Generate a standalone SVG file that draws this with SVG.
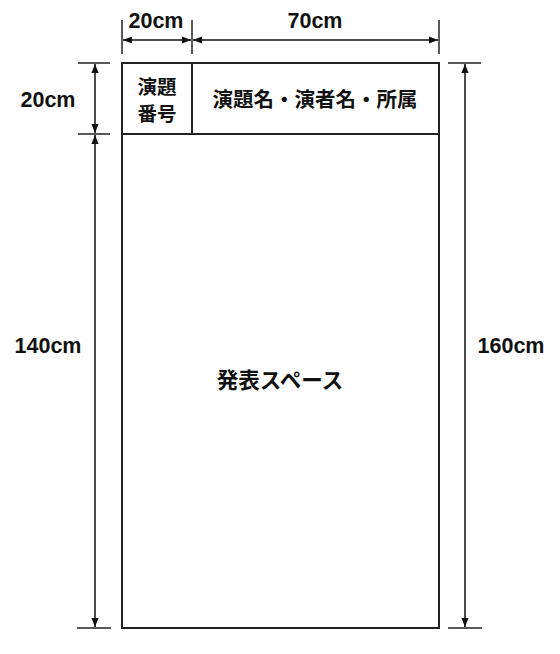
<svg xmlns="http://www.w3.org/2000/svg" width="560" height="654" viewBox="0 0 560 654">
<style>
.box{fill:none;stroke:#222;stroke-width:2}
.ext{stroke:#222;stroke-width:1.5;fill:none}
.dim{stroke:#111;stroke-width:1.5;fill:none;marker-start:url(#ah);marker-end:url(#ah)}
.lbl{font-family:"Liberation Sans",Arial,sans-serif;font-weight:bold;font-size:21.5px;fill:#111;text-anchor:middle}
.jp{font-family:"Noto Sans CJK JP","Noto Sans",sans-serif;font-weight:bold;fill:#111;text-anchor:middle}
</style>
<defs>
<marker id="ah" viewBox="0 0 10 10" refX="10" refY="5" markerWidth="9" markerHeight="9" markerUnits="userSpaceOnUse" orient="auto-start-reverse">
<path d="M0,1 L10,5 L0,9 Z" fill="#111"/>
</marker>
</defs>
<g id="poster">
<rect class="box" x="122" y="63" width="317" height="565"/>
<line class="box" x1="122" y1="134" x2="439" y2="134"/>
<line class="box" x1="192" y1="63" x2="192" y2="134"/>
</g>
<g id="number-cell">
<text class="jp" x="157" y="94" font-size="19.5">演題</text>
<text class="jp" x="157" y="121" font-size="19.5">番号</text>
</g>
<g id="title-cell">
<text class="jp" x="315" y="107" font-size="20.5">演題名・演者名・所属</text>
</g>
<g id="space-cell">
<text class="jp" x="280" y="388" font-size="21.5">発表スペース</text>
</g>
<g id="connectors">
<line class="ext" x1="122" y1="20" x2="122" y2="54"/>
<line class="ext" x1="192" y1="20" x2="192" y2="54"/>
<line class="ext" x1="439" y1="20" x2="439" y2="54"/>
<line class="dim" x1="123" y1="40" x2="191" y2="40"/>
<line class="dim" x1="193" y1="40" x2="438" y2="40"/>
<line class="ext" x1="78" y1="63" x2="110" y2="63"/>
<line class="ext" x1="78" y1="134" x2="110" y2="134"/>
<line class="ext" x1="77" y1="628" x2="111" y2="628"/>
<line class="dim" x1="95" y1="64" x2="95" y2="133"/>
<line class="dim" x1="95" y1="135" x2="95" y2="627"/>
<line class="ext" x1="448" y1="63" x2="481" y2="63"/>
<line class="ext" x1="448" y1="628" x2="482" y2="628"/>
<line class="dim" x1="465" y1="64" x2="465" y2="627"/>
</g>
<g id="labels">
<text class="lbl" x="156" y="28">20cm</text>
<text class="lbl" x="315" y="28">70cm</text>
<text class="lbl" x="48" y="107">20cm</text>
<text class="lbl" x="48" y="353">140cm</text>
<text class="lbl" x="511" y="353">160cm</text>
</g>
</svg>
